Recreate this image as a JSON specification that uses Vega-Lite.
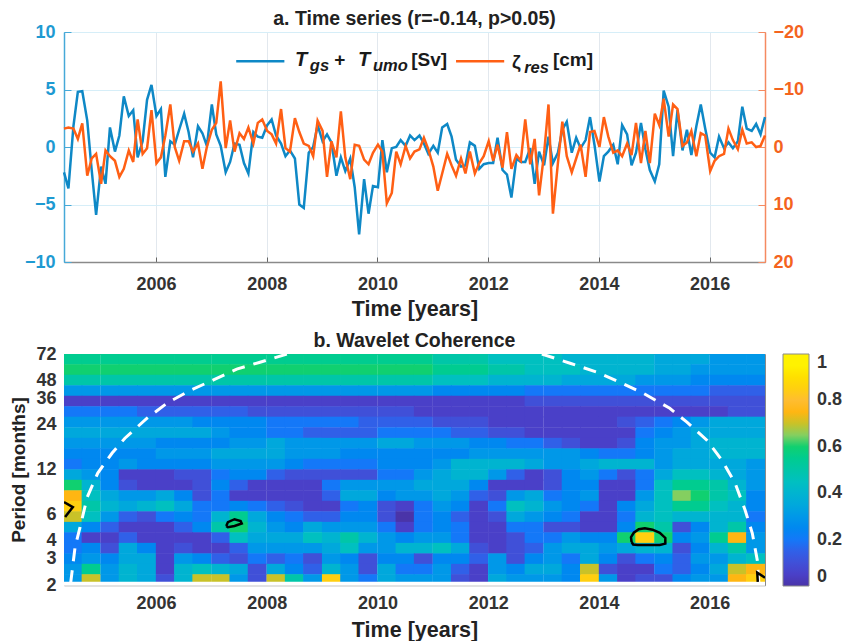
{"$schema":"https://vega.github.io/schema/vega-lite/v6.json","padding":{"left":9,"top":8,"right":0,"bottom":0},"bounds":"flush","spacing":92,"config":{"font":"Liberation Sans","view":{"stroke":"#8a8a8a"}},"datasets":{"series":[
{"t":2004.34,"T":-2.2,"z":-3.2},{"t":2004.42,"T":-3.6,"z":-3.4},{"t":2004.51,"T":1.8,"z":-3.2},{"t":2004.59,"T":4.8,"z":-1.4},{"t":2004.67,"T":4.85,"z":-4.1},{"t":2004.76,"T":2.3,"z":5},{"t":2004.84,"T":-2,"z":2},{"t":2004.92,"T":-5.9,"z":1.2},
{"t":2005.01,"T":-1.7,"z":6.4},{"t":2005.09,"T":-3.2,"z":0.6},{"t":2005.17,"T":1.7,"z":1.6},{"t":2005.26,"T":-0.4,"z":2.4},{"t":2005.34,"T":1,"z":5.2},{"t":2005.42,"T":4.4,"z":3.8},{"t":2005.51,"T":2.7,"z":0.6},{"t":2005.59,"T":3.2,"z":2.6},{"t":2005.67,"T":-0.9,"z":-4.8},{"t":2005.76,"T":0.5,"z":1.2},{"t":2005.84,"T":4.1,"z":0.2},{"t":2005.92,"T":5.4,"z":-6.4},
{"t":2006.01,"T":2.7,"z":2.8},{"t":2006.09,"T":3.3,"z":1.8},{"t":2006.17,"T":-2.6,"z":-2},{"t":2006.26,"T":0.5,"z":-7.4},{"t":2006.34,"T":0.2,"z":0},{"t":2006.42,"T":1.5,"z":2.4},{"t":2006.51,"T":2.9,"z":-1},{"t":2006.59,"T":1.3,"z":-1},{"t":2006.67,"T":-0.9,"z":0.8},{"t":2006.76,"T":1.8,"z":-0.6},{"t":2006.84,"T":1.2,"z":3.8},{"t":2006.92,"T":0.1,"z":0},
{"t":2007.01,"T":3.7,"z":-3},{"t":2007.09,"T":1.1,"z":-4.2},{"t":2007.17,"T":0.1,"z":-11.4},{"t":2007.26,"T":-2.2,"z":0.2},{"t":2007.34,"T":-1.3,"z":-4.6},{"t":2007.42,"T":0.3,"z":0.8},{"t":2007.51,"T":0.2,"z":-2.4},{"t":2007.59,"T":-1.4,"z":-1.4},{"t":2007.67,"T":-2.3,"z":-3.4},{"t":2007.76,"T":1.3,"z":-0.6},{"t":2007.84,"T":0.9,"z":-4.2},{"t":2007.92,"T":0.8,"z":-4.8},
{"t":2008.01,"T":1.9,"z":-2.8},{"t":2008.09,"T":2.4,"z":-2.2},{"t":2008.17,"T":1,"z":-0.6},{"t":2008.26,"T":0.3,"z":-6.6},{"t":2008.34,"T":-0.8,"z":0.2},{"t":2008.42,"T":-0.3,"z":0.8},{"t":2008.51,"T":-1,"z":-5},{"t":2008.59,"T":-5,"z":-2.6},{"t":2008.67,"T":-5.3,"z":-0.6},{"t":2008.76,"T":-0.5,"z":-0.2},{"t":2008.84,"T":0,"z":1.6},{"t":2008.92,"T":1.9,"z":-4.6},
{"t":2009.01,"T":0.5,"z":-2.8},{"t":2009.09,"T":1.1,"z":5.2},{"t":2009.17,"T":0.4,"z":-1},{"t":2009.26,"T":-2.5,"z":1.8},{"t":2009.34,"T":-0.9,"z":-6.2},{"t":2009.42,"T":-2.1,"z":1.8},{"t":2009.51,"T":-1,"z":5.6},{"t":2009.59,"T":-3.5,"z":-0.4},{"t":2009.67,"T":-7.6,"z":-0.2},{"t":2009.76,"T":-2.8,"z":2.2},{"t":2009.84,"T":-5.8,"z":3},{"t":2009.92,"T":-3.4,"z":1},
{"t":2010.01,"T":-3.5,"z":-0.4},{"t":2010.09,"T":0.6,"z":0.8},{"t":2010.17,"T":-2.2,"z":9.8},{"t":2010.26,"T":-0.1,"z":8},{"t":2010.34,"T":0,"z":0.8},{"t":2010.42,"T":0.6,"z":3},{"t":2010.51,"T":0.1,"z":-0.2},{"t":2010.59,"T":1,"z":2},{"t":2010.67,"T":0.6,"z":0.8},{"t":2010.76,"T":1,"z":0.4},{"t":2010.84,"T":0.3,"z":-1.6},{"t":2010.92,"T":-0.6,"z":0.4},
{"t":2011.01,"T":0.1,"z":3.4},{"t":2011.09,"T":-0.5,"z":7.6},{"t":2011.17,"T":1.7,"z":4.6},{"t":2011.26,"T":2,"z":1.2},{"t":2011.34,"T":0.9,"z":3.2},{"t":2011.42,"T":-1.1,"z":5},{"t":2011.51,"T":-1.7,"z":2},{"t":2011.59,"T":-1.6,"z":4.6},{"t":2011.67,"T":0.4,"z":0.8},{"t":2011.76,"T":0.1,"z":4.6},{"t":2011.84,"T":-1.9,"z":2.8},{"t":2011.92,"T":-1.5,"z":1.6},
{"t":2012.01,"T":-1.4,"z":-1},{"t":2012.09,"T":-1.4,"z":2.4},{"t":2012.17,"T":0.8,"z":-0.4},{"t":2012.26,"T":-2,"z":3.6},{"t":2012.34,"T":-2.4,"z":-2.6},{"t":2012.42,"T":-4.4,"z":3.8},{"t":2012.51,"T":-1,"z":1.4},{"t":2012.59,"T":-1.3,"z":2.4},{"t":2012.67,"T":-1.3,"z":-4.8},{"t":2012.76,"T":-0.1,"z":3},{"t":2012.84,"T":-3.2,"z":-1.4},{"t":2012.92,"T":-0.4,"z":8.4},
{"t":2013.01,"T":-1.6,"z":1.2},{"t":2013.09,"T":0.9,"z":-7.4},{"t":2013.17,"T":-1.4,"z":11.6},{"t":2013.26,"T":-0.5,"z":2.8},{"t":2013.34,"T":1.5,"z":-4.4},{"t":2013.42,"T":2.2,"z":1.6},{"t":2013.51,"T":-0.5,"z":4.4},{"t":2013.59,"T":0.8,"z":2},{"t":2013.67,"T":-0.1,"z":-0.4},{"t":2013.76,"T":0.6,"z":5.2},{"t":2013.84,"T":2.6,"z":-2.6},{"t":2013.92,"T":0.2,"z":-2.8},
{"t":2014.01,"T":-3,"z":0},{"t":2014.09,"T":-0.8,"z":-5.2},{"t":2014.17,"T":-0.4,"z":-1.8},{"t":2014.26,"T":0.2,"z":1},{"t":2014.34,"T":-1.5,"z":0.6},{"t":2014.42,"T":1.9,"z":1.6},{"t":2014.51,"T":1.1,"z":-0.6},{"t":2014.59,"T":-1.6,"z":1.4},{"t":2014.67,"T":-0.5,"z":-4.2},{"t":2014.76,"T":2.1,"z":2.8},{"t":2014.84,"T":-0.2,"z":-2.8},{"t":2014.92,"T":-2,"z":2.8},
{"t":2015.01,"T":-3,"z":-5.8},{"t":2015.09,"T":-1.5,"z":-3.8},{"t":2015.17,"T":4.9,"z":-8.4},{"t":2015.26,"T":3.5,"z":-1.8},{"t":2015.34,"T":-0.8,"z":-7.4},{"t":2015.42,"T":3.2,"z":-6.6},{"t":2015.51,"T":-0.3,"z":-0.2},{"t":2015.59,"T":1.5,"z":-0.8},{"t":2015.67,"T":-0.7,"z":-2.8},{"t":2015.76,"T":1.8,"z":1.6},{"t":2015.84,"T":3.7,"z":-2.4},{"t":2015.92,"T":1.6,"z":-2},
{"t":2016.01,"T":-0.5,"z":4.2},{"t":2016.09,"T":-0.9,"z":2.4},{"t":2016.17,"T":0.9,"z":1.6},{"t":2016.26,"T":-0.1,"z":1.2},{"t":2016.34,"T":0.4,"z":-3.2},{"t":2016.42,"T":-0.1,"z":-1.2},{"t":2016.51,"T":0.5,"z":0.4},{"t":2016.59,"T":3.5,"z":-3},{"t":2016.67,"T":1.6,"z":-0.6},{"t":2016.76,"T":1.4,"z":-0.8},{"t":2016.84,"T":2,"z":0},{"t":2016.92,"T":1.1,"z":-0.2},{"t":2017,"T":2.6,"z":-2}
],
"cells":[
{"t":2004.5,"p":66.4,"c":0.55},{"t":2004.83,"p":66.4,"c":0.55},{"t":2005.17,"p":66.4,"c":0.55},{"t":2005.5,"p":66.4,"c":0.55},{"t":2005.83,"p":66.4,"c":0.55},{"t":2006.17,"p":66.4,"c":0.55},{"t":2006.5,"p":66.4,"c":0.58},{"t":2006.83,"p":66.4,"c":0.58},{"t":2007.17,"p":66.4,"c":0.58},{"t":2007.5,"p":66.4,"c":0.58},{"t":2007.83,"p":66.4,"c":0.58},{"t":2008.17,"p":66.4,"c":0.58},{"t":2008.5,"p":66.4,"c":0.58},{"t":2008.83,"p":66.4,"c":0.58},{"t":2009.17,"p":66.4,"c":0.55},{"t":2009.5,"p":66.4,"c":0.55},{"t":2009.83,"p":66.4,"c":0.55},{"t":2010.17,"p":66.4,"c":0.55},{"t":2010.5,"p":66.4,"c":0.55},{"t":2010.83,"p":66.4,"c":0.55},{"t":2011.17,"p":66.4,"c":0.5},{"t":2011.5,"p":66.4,"c":0.5},{"t":2011.83,"p":66.4,"c":0.5},{"t":2012.17,"p":66.4,"c":0.48},{"t":2012.5,"p":66.4,"c":0.48},{"t":2012.83,"p":66.4,"c":0.45},{"t":2013.17,"p":66.4,"c":0.45},{"t":2013.5,"p":66.4,"c":0.43},{"t":2013.83,"p":66.4,"c":0.43},{"t":2014.17,"p":66.4,"c":0.43},{"t":2014.5,"p":66.4,"c":0.4},{"t":2014.83,"p":66.4,"c":0.4},{"t":2015.17,"p":66.4,"c":0.38},{"t":2015.5,"p":66.4,"c":0.38},{"t":2015.83,"p":66.4,"c":0.35},{"t":2016.17,"p":66.4,"c":0.33},{"t":2016.5,"p":66.4,"c":0.33},{"t":2016.83,"p":66.4,"c":0.33},
{"t":2004.5,"p":56.4,"c":0.62},{"t":2004.83,"p":56.4,"c":0.62},{"t":2005.17,"p":56.4,"c":0.62},{"t":2005.5,"p":56.4,"c":0.62},{"t":2005.83,"p":56.4,"c":0.62},{"t":2006.17,"p":56.4,"c":0.62},{"t":2006.5,"p":56.4,"c":0.62},{"t":2006.83,"p":56.4,"c":0.62},{"t":2007.17,"p":56.4,"c":0.62},{"t":2007.5,"p":56.4,"c":0.62},{"t":2007.83,"p":56.4,"c":0.62},{"t":2008.17,"p":56.4,"c":0.62},{"t":2008.5,"p":56.4,"c":0.62},{"t":2008.83,"p":56.4,"c":0.62},{"t":2009.17,"p":56.4,"c":0.62},{"t":2009.5,"p":56.4,"c":0.62},{"t":2009.83,"p":56.4,"c":0.62},{"t":2010.17,"p":56.4,"c":0.62},{"t":2010.5,"p":56.4,"c":0.62},{"t":2010.83,"p":56.4,"c":0.6},{"t":2011.17,"p":56.4,"c":0.58},{"t":2011.5,"p":56.4,"c":0.55},{"t":2011.83,"p":56.4,"c":0.55},{"t":2012.17,"p":56.4,"c":0.52},{"t":2012.5,"p":56.4,"c":0.5},{"t":2012.83,"p":56.4,"c":0.48},{"t":2013.17,"p":56.4,"c":0.45},{"t":2013.5,"p":56.4,"c":0.45},{"t":2013.83,"p":56.4,"c":0.43},{"t":2014.17,"p":56.4,"c":0.43},{"t":2014.5,"p":56.4,"c":0.4},{"t":2014.83,"p":56.4,"c":0.4},{"t":2015.17,"p":56.4,"c":0.38},{"t":2015.5,"p":56.4,"c":0.35},{"t":2015.83,"p":56.4,"c":0.33},{"t":2016.17,"p":56.4,"c":0.33},{"t":2016.5,"p":56.4,"c":0.33},{"t":2016.83,"p":56.4,"c":0.33},
{"t":2004.5,"p":47.9,"c":0.52},{"t":2004.83,"p":47.9,"c":0.52},{"t":2005.17,"p":47.9,"c":0.52},{"t":2005.5,"p":47.9,"c":0.52},{"t":2005.83,"p":47.9,"c":0.52},{"t":2006.17,"p":47.9,"c":0.52},{"t":2006.5,"p":47.9,"c":0.52},{"t":2006.83,"p":47.9,"c":0.52},{"t":2007.17,"p":47.9,"c":0.52},{"t":2007.5,"p":47.9,"c":0.52},{"t":2007.83,"p":47.9,"c":0.52},{"t":2008.17,"p":47.9,"c":0.52},{"t":2008.5,"p":47.9,"c":0.52},{"t":2008.83,"p":47.9,"c":0.52},{"t":2009.17,"p":47.9,"c":0.5},{"t":2009.5,"p":47.9,"c":0.5},{"t":2009.83,"p":47.9,"c":0.5},{"t":2010.17,"p":47.9,"c":0.5},{"t":2010.5,"p":47.9,"c":0.5},{"t":2010.83,"p":47.9,"c":0.5},{"t":2011.17,"p":47.9,"c":0.47},{"t":2011.5,"p":47.9,"c":0.45},{"t":2011.83,"p":47.9,"c":0.45},{"t":2012.17,"p":47.9,"c":0.43},{"t":2012.5,"p":47.9,"c":0.43},{"t":2012.83,"p":47.9,"c":0.4},{"t":2013.17,"p":47.9,"c":0.4},{"t":2013.5,"p":47.9,"c":0.38},{"t":2013.83,"p":47.9,"c":0.38},{"t":2014.17,"p":47.9,"c":0.35},{"t":2014.5,"p":47.9,"c":0.35},{"t":2014.83,"p":47.9,"c":0.33},{"t":2015.17,"p":47.9,"c":0.3},{"t":2015.5,"p":47.9,"c":0.3},{"t":2015.83,"p":47.9,"c":0.28},{"t":2016.17,"p":47.9,"c":0.28},{"t":2016.5,"p":47.9,"c":0.28},{"t":2016.83,"p":47.9,"c":0.28},
{"t":2004.5,"p":40.7,"c":0.33},{"t":2004.83,"p":40.7,"c":0.33},{"t":2005.17,"p":40.7,"c":0.33},{"t":2005.5,"p":40.7,"c":0.33},{"t":2005.83,"p":40.7,"c":0.33},{"t":2006.17,"p":40.7,"c":0.33},{"t":2006.5,"p":40.7,"c":0.33},{"t":2006.83,"p":40.7,"c":0.33},{"t":2007.17,"p":40.7,"c":0.33},{"t":2007.5,"p":40.7,"c":0.33},{"t":2007.83,"p":40.7,"c":0.33},{"t":2008.17,"p":40.7,"c":0.33},{"t":2008.5,"p":40.7,"c":0.33},{"t":2008.83,"p":40.7,"c":0.33},{"t":2009.17,"p":40.7,"c":0.3},{"t":2009.5,"p":40.7,"c":0.3},{"t":2009.83,"p":40.7,"c":0.3},{"t":2010.17,"p":40.7,"c":0.3},{"t":2010.5,"p":40.7,"c":0.3},{"t":2010.83,"p":40.7,"c":0.3},{"t":2011.17,"p":40.7,"c":0.28},{"t":2011.5,"p":40.7,"c":0.28},{"t":2011.83,"p":40.7,"c":0.25},{"t":2012.17,"p":40.7,"c":0.25},{"t":2012.5,"p":40.7,"c":0.25},{"t":2012.83,"p":40.7,"c":0.23},{"t":2013.17,"p":40.7,"c":0.23},{"t":2013.5,"p":40.7,"c":0.23},{"t":2013.83,"p":40.7,"c":0.23},{"t":2014.17,"p":40.7,"c":0.2},{"t":2014.5,"p":40.7,"c":0.2},{"t":2014.83,"p":40.7,"c":0.2},{"t":2015.17,"p":40.7,"c":0.2},{"t":2015.5,"p":40.7,"c":0.2},{"t":2015.83,"p":40.7,"c":0.2},{"t":2016.17,"p":40.7,"c":0.18},{"t":2016.5,"p":40.7,"c":0.18},{"t":2016.83,"p":40.7,"c":0.18},
{"t":2004.5,"p":34.6,"c":0.05},{"t":2004.83,"p":34.6,"c":0.05},{"t":2005.17,"p":34.6,"c":0.05},{"t":2005.5,"p":34.6,"c":0.05},{"t":2005.83,"p":34.6,"c":0.05},{"t":2006.17,"p":34.6,"c":0.05},{"t":2006.5,"p":34.6,"c":0.05},{"t":2006.83,"p":34.6,"c":0.05},{"t":2007.17,"p":34.6,"c":0.05},{"t":2007.5,"p":34.6,"c":0.05},{"t":2007.83,"p":34.6,"c":0.05},{"t":2008.17,"p":34.6,"c":0.05},{"t":2008.5,"p":34.6,"c":0.05},{"t":2008.83,"p":34.6,"c":0.05},{"t":2009.17,"p":34.6,"c":0.05},{"t":2009.5,"p":34.6,"c":0.05},{"t":2009.83,"p":34.6,"c":0.05},{"t":2010.17,"p":34.6,"c":0.05},{"t":2010.5,"p":34.6,"c":0.05},{"t":2010.83,"p":34.6,"c":0.05},{"t":2011.17,"p":34.6,"c":0.05},{"t":2011.5,"p":34.6,"c":0.05},{"t":2011.83,"p":34.6,"c":0.05},{"t":2012.17,"p":34.6,"c":0.05},{"t":2012.5,"p":34.6,"c":0.07},{"t":2012.83,"p":34.6,"c":0.1},{"t":2013.17,"p":34.6,"c":0.1},{"t":2013.5,"p":34.6,"c":0.1},{"t":2013.83,"p":34.6,"c":0.12},{"t":2014.17,"p":34.6,"c":0.12},{"t":2014.5,"p":34.6,"c":0.12},{"t":2014.83,"p":34.6,"c":0.12},{"t":2015.17,"p":34.6,"c":0.12},{"t":2015.5,"p":34.6,"c":0.12},{"t":2015.83,"p":34.6,"c":0.12},{"t":2016.17,"p":34.6,"c":0.13},{"t":2016.5,"p":34.6,"c":0.13},{"t":2016.83,"p":34.6,"c":0.13},
{"t":2004.5,"p":29.4,"c":0.2},{"t":2004.83,"p":29.4,"c":0.2},{"t":2005.17,"p":29.4,"c":0.2},{"t":2005.5,"p":29.4,"c":0.2},{"t":2005.83,"p":29.4,"c":0.18},{"t":2006.17,"p":29.4,"c":0.18},{"t":2006.5,"p":29.4,"c":0.18},{"t":2006.83,"p":29.4,"c":0.15},{"t":2007.17,"p":29.4,"c":0.15},{"t":2007.5,"p":29.4,"c":0.15},{"t":2007.83,"p":29.4,"c":0.13},{"t":2008.17,"p":29.4,"c":0.13},{"t":2008.5,"p":29.4,"c":0.1},{"t":2008.83,"p":29.4,"c":0.1},{"t":2009.17,"p":29.4,"c":0.1},{"t":2009.5,"p":29.4,"c":0.1},{"t":2009.83,"p":29.4,"c":0.1},{"t":2010.17,"p":29.4,"c":0.1},{"t":2010.5,"p":29.4,"c":0.1},{"t":2010.83,"p":29.4,"c":0.08},{"t":2011.17,"p":29.4,"c":0.08},{"t":2011.5,"p":29.4,"c":0.07},{"t":2011.83,"p":29.4,"c":0.05},{"t":2012.17,"p":29.4,"c":0.05},{"t":2012.5,"p":29.4,"c":0.05},{"t":2012.83,"p":29.4,"c":0.05},{"t":2013.17,"p":29.4,"c":0.05},{"t":2013.5,"p":29.4,"c":0.05},{"t":2013.83,"p":29.4,"c":0.05},{"t":2014.17,"p":29.4,"c":0.05},{"t":2014.5,"p":29.4,"c":0.05},{"t":2014.83,"p":29.4,"c":0.05},{"t":2015.17,"p":29.4,"c":0.05},{"t":2015.5,"p":29.4,"c":0.05},{"t":2015.83,"p":29.4,"c":0.05},{"t":2016.17,"p":29.4,"c":0.08},{"t":2016.5,"p":29.4,"c":0.1},{"t":2016.83,"p":29.4,"c":0.1},
{"t":2004.5,"p":25,"c":0.33},{"t":2004.83,"p":25,"c":0.33},{"t":2005.17,"p":25,"c":0.33},{"t":2005.5,"p":25,"c":0.33},{"t":2005.83,"p":25,"c":0.33},{"t":2006.17,"p":25,"c":0.3},{"t":2006.5,"p":25,"c":0.3},{"t":2006.83,"p":25,"c":0.28},{"t":2007.17,"p":25,"c":0.28},{"t":2007.5,"p":25,"c":0.25},{"t":2007.83,"p":25,"c":0.25},{"t":2008.17,"p":25,"c":0.23},{"t":2008.5,"p":25,"c":0.2},{"t":2008.83,"p":25,"c":0.2},{"t":2009.17,"p":25,"c":0.2},{"t":2009.5,"p":25,"c":0.2},{"t":2009.83,"p":25,"c":0.18},{"t":2010.17,"p":25,"c":0.18},{"t":2010.5,"p":25,"c":0.18},{"t":2010.83,"p":25,"c":0.15},{"t":2011.17,"p":25,"c":0.13},{"t":2011.5,"p":25,"c":0.1},{"t":2011.83,"p":25,"c":0.1},{"t":2012.17,"p":25,"c":0.08},{"t":2012.5,"p":25,"c":0.05},{"t":2012.83,"p":25,"c":0.05},{"t":2013.17,"p":25,"c":0.05},{"t":2013.5,"p":25,"c":0.05},{"t":2013.83,"p":25,"c":0.05},{"t":2014.17,"p":25,"c":0.05},{"t":2014.5,"p":25,"c":0.1},{"t":2014.83,"p":25,"c":0.18},{"t":2015.17,"p":25,"c":0.23},{"t":2015.5,"p":25,"c":0.25},{"t":2015.83,"p":25,"c":0.3},{"t":2016.17,"p":25,"c":0.35},{"t":2016.5,"p":25,"c":0.35},{"t":2016.83,"p":25,"c":0.35},
{"t":2004.5,"p":21.2,"c":0.38},{"t":2004.83,"p":21.2,"c":0.38},{"t":2005.17,"p":21.2,"c":0.38},{"t":2005.5,"p":21.2,"c":0.38},{"t":2005.83,"p":21.2,"c":0.38},{"t":2006.17,"p":21.2,"c":0.38},{"t":2006.5,"p":21.2,"c":0.35},{"t":2006.83,"p":21.2,"c":0.35},{"t":2007.17,"p":21.2,"c":0.33},{"t":2007.5,"p":21.2,"c":0.28},{"t":2007.83,"p":21.2,"c":0.25},{"t":2008.17,"p":21.2,"c":0.2},{"t":2008.5,"p":21.2,"c":0.2},{"t":2008.83,"p":21.2,"c":0.18},{"t":2009.17,"p":21.2,"c":0.18},{"t":2009.5,"p":21.2,"c":0.18},{"t":2009.83,"p":21.2,"c":0.18},{"t":2010.17,"p":21.2,"c":0.2},{"t":2010.5,"p":21.2,"c":0.2},{"t":2010.83,"p":21.2,"c":0.2},{"t":2011.17,"p":21.2,"c":0.2},{"t":2011.5,"p":21.2,"c":0.18},{"t":2011.83,"p":21.2,"c":0.15},{"t":2012.17,"p":21.2,"c":0.13},{"t":2012.5,"p":21.2,"c":0.1},{"t":2012.83,"p":21.2,"c":0.08},{"t":2013.17,"p":21.2,"c":0.05},{"t":2013.5,"p":21.2,"c":0.05},{"t":2013.83,"p":21.2,"c":0.05},{"t":2014.17,"p":21.2,"c":0.05},{"t":2014.5,"p":21.2,"c":0.08},{"t":2014.83,"p":21.2,"c":0.2},{"t":2015.17,"p":21.2,"c":0.28},{"t":2015.5,"p":21.2,"c":0.3},{"t":2015.83,"p":21.2,"c":0.35},{"t":2016.17,"p":21.2,"c":0.38},{"t":2016.5,"p":21.2,"c":0.38},{"t":2016.83,"p":21.2,"c":0.38},
{"t":2004.5,"p":18,"c":0.3},{"t":2004.83,"p":18,"c":0.3},{"t":2005.17,"p":18,"c":0.3},{"t":2005.5,"p":18,"c":0.3},{"t":2005.83,"p":18,"c":0.3},{"t":2006.17,"p":18,"c":0.28},{"t":2006.5,"p":18,"c":0.28},{"t":2006.83,"p":18,"c":0.28},{"t":2007.17,"p":18,"c":0.28},{"t":2007.5,"p":18,"c":0.3},{"t":2007.83,"p":18,"c":0.33},{"t":2008.17,"p":18,"c":0.35},{"t":2008.5,"p":18,"c":0.33},{"t":2008.83,"p":18,"c":0.33},{"t":2009.17,"p":18,"c":0.3},{"t":2009.5,"p":18,"c":0.3},{"t":2009.83,"p":18,"c":0.33},{"t":2010.17,"p":18,"c":0.35},{"t":2010.5,"p":18,"c":0.35},{"t":2010.83,"p":18,"c":0.33},{"t":2011.17,"p":18,"c":0.3},{"t":2011.5,"p":18,"c":0.3},{"t":2011.83,"p":18,"c":0.28},{"t":2012.17,"p":18,"c":0.25},{"t":2012.5,"p":18,"c":0.23},{"t":2012.83,"p":18,"c":0.2},{"t":2013.17,"p":18,"c":0.15},{"t":2013.5,"p":18,"c":0.1},{"t":2013.83,"p":18,"c":0.05},{"t":2014.17,"p":18,"c":0.05},{"t":2014.5,"p":18,"c":0.13},{"t":2014.83,"p":18,"c":0.25},{"t":2015.17,"p":18,"c":0.3},{"t":2015.5,"p":18,"c":0.33},{"t":2015.83,"p":18,"c":0.38},{"t":2016.17,"p":18,"c":0.4},{"t":2016.5,"p":18,"c":0.42},{"t":2016.83,"p":18,"c":0.42},
{"t":2004.5,"p":15.3,"c":0.25},{"t":2004.83,"p":15.3,"c":0.25},{"t":2005.17,"p":15.3,"c":0.25},{"t":2005.5,"p":15.3,"c":0.25},{"t":2005.83,"p":15.3,"c":0.28},{"t":2006.17,"p":15.3,"c":0.3},{"t":2006.5,"p":15.3,"c":0.3},{"t":2006.83,"p":15.3,"c":0.33},{"t":2007.17,"p":15.3,"c":0.35},{"t":2007.5,"p":15.3,"c":0.38},{"t":2007.83,"p":15.3,"c":0.38},{"t":2008.17,"p":15.3,"c":0.35},{"t":2008.5,"p":15.3,"c":0.33},{"t":2008.83,"p":15.3,"c":0.3},{"t":2009.17,"p":15.3,"c":0.3},{"t":2009.5,"p":15.3,"c":0.28},{"t":2009.83,"p":15.3,"c":0.28},{"t":2010.17,"p":15.3,"c":0.28},{"t":2010.5,"p":15.3,"c":0.27},{"t":2010.83,"p":15.3,"c":0.25},{"t":2011.17,"p":15.3,"c":0.25},{"t":2011.5,"p":15.3,"c":0.28},{"t":2011.83,"p":15.3,"c":0.3},{"t":2012.17,"p":15.3,"c":0.33},{"t":2012.5,"p":15.3,"c":0.33},{"t":2012.83,"p":15.3,"c":0.33},{"t":2013.17,"p":15.3,"c":0.33},{"t":2013.5,"p":15.3,"c":0.3},{"t":2013.83,"p":15.3,"c":0.27},{"t":2014.17,"p":15.3,"c":0.23},{"t":2014.5,"p":15.3,"c":0.23},{"t":2014.83,"p":15.3,"c":0.27},{"t":2015.17,"p":15.3,"c":0.3},{"t":2015.5,"p":15.3,"c":0.35},{"t":2015.83,"p":15.3,"c":0.38},{"t":2016.17,"p":15.3,"c":0.42},{"t":2016.5,"p":15.3,"c":0.42},{"t":2016.83,"p":15.3,"c":0.42},
{"t":2004.5,"p":13,"c":0.23},{"t":2004.83,"p":13,"c":0.25},{"t":2005.17,"p":13,"c":0.28},{"t":2005.5,"p":13,"c":0.3},{"t":2005.83,"p":13,"c":0.28},{"t":2006.17,"p":13,"c":0.28},{"t":2006.5,"p":13,"c":0.25},{"t":2006.83,"p":13,"c":0.27},{"t":2007.17,"p":13,"c":0.3},{"t":2007.5,"p":13,"c":0.33},{"t":2007.83,"p":13,"c":0.33},{"t":2008.17,"p":13,"c":0.3},{"t":2008.5,"p":13,"c":0.27},{"t":2008.83,"p":13,"c":0.22},{"t":2009.17,"p":13,"c":0.2},{"t":2009.5,"p":13,"c":0.2},{"t":2009.83,"p":13,"c":0.22},{"t":2010.17,"p":13,"c":0.25},{"t":2010.5,"p":13,"c":0.25},{"t":2010.83,"p":13,"c":0.27},{"t":2011.17,"p":13,"c":0.33},{"t":2011.5,"p":13,"c":0.4},{"t":2011.83,"p":13,"c":0.43},{"t":2012.17,"p":13,"c":0.43},{"t":2012.5,"p":13,"c":0.4},{"t":2012.83,"p":13,"c":0.38},{"t":2013.17,"p":13,"c":0.33},{"t":2013.5,"p":13,"c":0.33},{"t":2013.83,"p":13,"c":0.35},{"t":2014.17,"p":13,"c":0.42},{"t":2014.5,"p":13,"c":0.43},{"t":2014.83,"p":13,"c":0.4},{"t":2015.17,"p":13,"c":0.33},{"t":2015.5,"p":13,"c":0.35},{"t":2015.83,"p":13,"c":0.38},{"t":2016.17,"p":13,"c":0.38},{"t":2016.5,"p":13,"c":0.35},{"t":2016.83,"p":13,"c":0.3},
{"t":2004.5,"p":11.05,"c":0.38},{"t":2004.83,"p":11.05,"c":0.33},{"t":2005.17,"p":11.05,"c":0.28},{"t":2005.5,"p":11.05,"c":0.05},{"t":2005.83,"p":11.05,"c":0.05},{"t":2006.17,"p":11.05,"c":0.05},{"t":2006.5,"p":11.05,"c":0.1},{"t":2006.83,"p":11.05,"c":0.12},{"t":2007.17,"p":11.05,"c":0.2},{"t":2007.5,"p":11.05,"c":0.27},{"t":2007.83,"p":11.05,"c":0.25},{"t":2008.17,"p":11.05,"c":0.18},{"t":2008.5,"p":11.05,"c":0.1},{"t":2008.83,"p":11.05,"c":0.1},{"t":2009.17,"p":11.05,"c":0.1},{"t":2009.5,"p":11.05,"c":0.1},{"t":2009.83,"p":11.05,"c":0.13},{"t":2010.17,"p":11.05,"c":0.2},{"t":2010.5,"p":11.05,"c":0.22},{"t":2010.83,"p":11.05,"c":0.3},{"t":2011.17,"p":11.05,"c":0.38},{"t":2011.5,"p":11.05,"c":0.43},{"t":2011.83,"p":11.05,"c":0.4},{"t":2012.17,"p":11.05,"c":0.3},{"t":2012.5,"p":11.05,"c":0.15},{"t":2012.83,"p":11.05,"c":0.05},{"t":2013.17,"p":11.05,"c":0.1},{"t":2013.5,"p":11.05,"c":0.25},{"t":2013.83,"p":11.05,"c":0.33},{"t":2014.17,"p":11.05,"c":0.2},{"t":2014.5,"p":11.05,"c":0.1},{"t":2014.83,"p":11.05,"c":0.2},{"t":2015.17,"p":11.05,"c":0.38},{"t":2015.5,"p":11.05,"c":0.45},{"t":2015.83,"p":11.05,"c":0.45},{"t":2016.17,"p":11.05,"c":0.42},{"t":2016.5,"p":11.05,"c":0.35},{"t":2016.83,"p":11.05,"c":0.33},
{"t":2004.5,"p":9.39,"c":0.6},{"t":2004.83,"p":9.39,"c":0.4},{"t":2005.17,"p":9.39,"c":0.28},{"t":2005.5,"p":9.39,"c":0.13},{"t":2005.83,"p":9.39,"c":0.05},{"t":2006.17,"p":9.39,"c":0.05},{"t":2006.5,"p":9.39,"c":0.05},{"t":2006.83,"p":9.39,"c":0.1},{"t":2007.17,"p":9.39,"c":0.25},{"t":2007.5,"p":9.39,"c":0.15},{"t":2007.83,"p":9.39,"c":0.05},{"t":2008.17,"p":9.39,"c":0.05},{"t":2008.5,"p":9.39,"c":0.05},{"t":2008.83,"p":9.39,"c":0.08},{"t":2009.17,"p":9.39,"c":0.2},{"t":2009.5,"p":9.39,"c":0.3},{"t":2009.83,"p":9.39,"c":0.3},{"t":2010.17,"p":9.39,"c":0.3},{"t":2010.5,"p":9.39,"c":0.33},{"t":2010.83,"p":9.39,"c":0.35},{"t":2011.17,"p":9.39,"c":0.38},{"t":2011.5,"p":9.39,"c":0.38},{"t":2011.83,"p":9.39,"c":0.25},{"t":2012.17,"p":9.39,"c":0.07},{"t":2012.5,"p":9.39,"c":0.05},{"t":2012.83,"p":9.39,"c":0.05},{"t":2013.17,"p":9.39,"c":0.12},{"t":2013.5,"p":9.39,"c":0.28},{"t":2013.83,"p":9.39,"c":0.28},{"t":2014.17,"p":9.39,"c":0.05},{"t":2014.5,"p":9.39,"c":0.05},{"t":2014.83,"p":9.39,"c":0.2},{"t":2015.17,"p":9.39,"c":0.45},{"t":2015.5,"p":9.39,"c":0.55},{"t":2015.83,"p":9.39,"c":0.55},{"t":2016.17,"p":9.39,"c":0.5},{"t":2016.5,"p":9.39,"c":0.4},{"t":2016.83,"p":9.39,"c":0.3},
{"t":2004.5,"p":7.98,"c":0.75},{"t":2004.83,"p":7.98,"c":0.45},{"t":2005.17,"p":7.98,"c":0.35},{"t":2005.5,"p":7.98,"c":0.3},{"t":2005.83,"p":7.98,"c":0.33},{"t":2006.17,"p":7.98,"c":0.38},{"t":2006.5,"p":7.98,"c":0.25},{"t":2006.83,"p":7.98,"c":0.13},{"t":2007.17,"p":7.98,"c":0.2},{"t":2007.5,"p":7.98,"c":0.07},{"t":2007.83,"p":7.98,"c":0.05},{"t":2008.17,"p":7.98,"c":0.05},{"t":2008.5,"p":7.98,"c":0.05},{"t":2008.83,"p":7.98,"c":0.07},{"t":2009.17,"p":7.98,"c":0.15},{"t":2009.5,"p":7.98,"c":0.38},{"t":2009.83,"p":7.98,"c":0.38},{"t":2010.17,"p":7.98,"c":0.28},{"t":2010.5,"p":7.98,"c":0.3},{"t":2010.83,"p":7.98,"c":0.33},{"t":2011.17,"p":7.98,"c":0.35},{"t":2011.5,"p":7.98,"c":0.3},{"t":2011.83,"p":7.98,"c":0.15},{"t":2012.17,"p":7.98,"c":0.12},{"t":2012.5,"p":7.98,"c":0.3},{"t":2012.83,"p":7.98,"c":0.35},{"t":2013.17,"p":7.98,"c":0.2},{"t":2013.5,"p":7.98,"c":0.25},{"t":2013.83,"p":7.98,"c":0.3},{"t":2014.17,"p":7.98,"c":0.07},{"t":2014.5,"p":7.98,"c":0.07},{"t":2014.83,"p":7.98,"c":0.3},{"t":2015.17,"p":7.98,"c":0.48},{"t":2015.5,"p":7.98,"c":0.68},{"t":2015.83,"p":7.98,"c":0.6},{"t":2016.17,"p":7.98,"c":0.5},{"t":2016.5,"p":7.98,"c":0.45},{"t":2016.83,"p":7.98,"c":0.25},
{"t":2004.5,"p":6.78,"c":0.85},{"t":2004.83,"p":6.78,"c":0.5},{"t":2005.17,"p":6.78,"c":0.4},{"t":2005.5,"p":6.78,"c":0.35},{"t":2005.83,"p":6.78,"c":0.4},{"t":2006.17,"p":6.78,"c":0.45},{"t":2006.5,"p":6.78,"c":0.35},{"t":2006.83,"p":6.78,"c":0.2},{"t":2007.17,"p":6.78,"c":0.2},{"t":2007.5,"p":6.78,"c":0.28},{"t":2007.83,"p":6.78,"c":0.2},{"t":2008.17,"p":6.78,"c":0.15},{"t":2008.5,"p":6.78,"c":0.12},{"t":2008.83,"p":6.78,"c":0.05},{"t":2009.17,"p":6.78,"c":0.07},{"t":2009.5,"p":6.78,"c":0.2},{"t":2009.83,"p":6.78,"c":0.25},{"t":2010.17,"p":6.78,"c":0.1},{"t":2010.5,"p":6.78,"c":0.05},{"t":2010.83,"p":6.78,"c":0.2},{"t":2011.17,"p":6.78,"c":0.3},{"t":2011.5,"p":6.78,"c":0.25},{"t":2011.83,"p":6.78,"c":0.08},{"t":2012.17,"p":6.78,"c":0.2},{"t":2012.5,"p":6.78,"c":0.45},{"t":2012.83,"p":6.78,"c":0.4},{"t":2013.17,"p":6.78,"c":0.3},{"t":2013.5,"p":6.78,"c":0.25},{"t":2013.83,"p":6.78,"c":0.2},{"t":2014.17,"p":6.78,"c":0.08},{"t":2014.5,"p":6.78,"c":0.25},{"t":2014.83,"p":6.78,"c":0.35},{"t":2015.17,"p":6.78,"c":0.45},{"t":2015.5,"p":6.78,"c":0.55},{"t":2015.83,"p":6.78,"c":0.55},{"t":2016.17,"p":6.78,"c":0.45},{"t":2016.5,"p":6.78,"c":0.42},{"t":2016.83,"p":6.78,"c":0.25},
{"t":2004.5,"p":5.76,"c":0.7},{"t":2004.83,"p":5.76,"c":0.45},{"t":2005.17,"p":5.76,"c":0.3},{"t":2005.5,"p":5.76,"c":0.15},{"t":2005.83,"p":5.76,"c":0.1},{"t":2006.17,"p":5.76,"c":0.2},{"t":2006.5,"p":5.76,"c":0.28},{"t":2006.83,"p":5.76,"c":0.22},{"t":2007.17,"p":5.76,"c":0.4},{"t":2007.5,"p":5.76,"c":0.55},{"t":2007.83,"p":5.76,"c":0.35},{"t":2008.17,"p":5.76,"c":0.25},{"t":2008.5,"p":5.76,"c":0.22},{"t":2008.83,"p":5.76,"c":0.18},{"t":2009.17,"p":5.76,"c":0.15},{"t":2009.5,"p":5.76,"c":0.25},{"t":2009.83,"p":5.76,"c":0.25},{"t":2010.17,"p":5.76,"c":0.1},{"t":2010.5,"p":5.76,"c":0.03},{"t":2010.83,"p":5.76,"c":0.2},{"t":2011.17,"p":5.76,"c":0.28},{"t":2011.5,"p":5.76,"c":0.18},{"t":2011.83,"p":5.76,"c":0.05},{"t":2012.17,"p":5.76,"c":0.12},{"t":2012.5,"p":5.76,"c":0.35},{"t":2012.83,"p":5.76,"c":0.3},{"t":2013.17,"p":5.76,"c":0.25},{"t":2013.5,"p":5.76,"c":0.2},{"t":2013.83,"p":5.76,"c":0.05},{"t":2014.17,"p":5.76,"c":0.05},{"t":2014.5,"p":5.76,"c":0.2},{"t":2014.83,"p":5.76,"c":0.4},{"t":2015.17,"p":5.76,"c":0.45},{"t":2015.5,"p":5.76,"c":0.42},{"t":2015.83,"p":5.76,"c":0.42},{"t":2016.17,"p":5.76,"c":0.42},{"t":2016.5,"p":5.76,"c":0.4},{"t":2016.83,"p":5.76,"c":0.22},
{"t":2004.5,"p":4.89,"c":0.38},{"t":2004.83,"p":4.89,"c":0.25},{"t":2005.17,"p":4.89,"c":0.18},{"t":2005.5,"p":4.89,"c":0.05},{"t":2005.83,"p":4.89,"c":0.05},{"t":2006.17,"p":4.89,"c":0.05},{"t":2006.5,"p":4.89,"c":0.15},{"t":2006.83,"p":4.89,"c":0.25},{"t":2007.17,"p":4.89,"c":0.5},{"t":2007.5,"p":4.89,"c":0.62},{"t":2007.83,"p":4.89,"c":0.4},{"t":2008.17,"p":4.89,"c":0.3},{"t":2008.5,"p":4.89,"c":0.28},{"t":2008.83,"p":4.89,"c":0.35},{"t":2009.17,"p":4.89,"c":0.3},{"t":2009.5,"p":4.89,"c":0.3},{"t":2009.83,"p":4.89,"c":0.3},{"t":2010.17,"p":4.89,"c":0.2},{"t":2010.5,"p":4.89,"c":0.05},{"t":2010.83,"p":4.89,"c":0.2},{"t":2011.17,"p":4.89,"c":0.28},{"t":2011.5,"p":4.89,"c":0.2},{"t":2011.83,"p":4.89,"c":0.05},{"t":2012.17,"p":4.89,"c":0.08},{"t":2012.5,"p":4.89,"c":0.22},{"t":2012.83,"p":4.89,"c":0.2},{"t":2013.17,"p":4.89,"c":0.1},{"t":2013.5,"p":4.89,"c":0.12},{"t":2013.83,"p":4.89,"c":0.05},{"t":2014.17,"p":4.89,"c":0.08},{"t":2014.5,"p":4.89,"c":0.25},{"t":2014.83,"p":4.89,"c":0.6},{"t":2015.17,"p":4.89,"c":0.5},{"t":2015.5,"p":4.89,"c":0.1},{"t":2015.83,"p":4.89,"c":0.25},{"t":2016.17,"p":4.89,"c":0.4},{"t":2016.5,"p":4.89,"c":0.5},{"t":2016.83,"p":4.89,"c":0.25},
{"t":2004.5,"p":4.16,"c":0.2},{"t":2004.83,"p":4.16,"c":0.05},{"t":2005.17,"p":4.16,"c":0.08},{"t":2005.5,"p":4.16,"c":0.15},{"t":2005.83,"p":4.16,"c":0.08},{"t":2006.17,"p":4.16,"c":0.05},{"t":2006.5,"p":4.16,"c":0.05},{"t":2006.83,"p":4.16,"c":0.05},{"t":2007.17,"p":4.16,"c":0.18},{"t":2007.5,"p":4.16,"c":0.45},{"t":2007.83,"p":4.16,"c":0.38},{"t":2008.17,"p":4.16,"c":0.35},{"t":2008.5,"p":4.16,"c":0.35},{"t":2008.83,"p":4.16,"c":0.45},{"t":2009.17,"p":4.16,"c":0.42},{"t":2009.5,"p":4.16,"c":0.5},{"t":2009.83,"p":4.16,"c":0.42},{"t":2010.17,"p":4.16,"c":0.3},{"t":2010.5,"p":4.16,"c":0.28},{"t":2010.83,"p":4.16,"c":0.33},{"t":2011.17,"p":4.16,"c":0.3},{"t":2011.5,"p":4.16,"c":0.2},{"t":2011.83,"p":4.16,"c":0.05},{"t":2012.17,"p":4.16,"c":0.05},{"t":2012.5,"p":4.16,"c":0.12},{"t":2012.83,"p":4.16,"c":0.2},{"t":2013.17,"p":4.16,"c":0.2},{"t":2013.5,"p":4.16,"c":0.3},{"t":2013.83,"p":4.16,"c":0.25},{"t":2014.17,"p":4.16,"c":0.28},{"t":2014.5,"p":4.16,"c":0.6},{"t":2014.83,"p":4.16,"c":0.88},{"t":2015.17,"p":4.16,"c":0.6},{"t":2015.5,"p":4.16,"c":0.25},{"t":2015.83,"p":4.16,"c":0.3},{"t":2016.17,"p":4.16,"c":0.58},{"t":2016.5,"p":4.16,"c":0.78},{"t":2016.83,"p":4.16,"c":0.3},
{"t":2004.5,"p":3.53,"c":0.2},{"t":2004.83,"p":3.53,"c":0.25},{"t":2005.17,"p":3.53,"c":0.1},{"t":2005.5,"p":3.53,"c":0.35},{"t":2005.83,"p":3.53,"c":0.25},{"t":2006.17,"p":3.53,"c":0.05},{"t":2006.5,"p":3.53,"c":0.13},{"t":2006.83,"p":3.53,"c":0.08},{"t":2007.17,"p":3.53,"c":0.05},{"t":2007.5,"p":3.53,"c":0.15},{"t":2007.83,"p":3.53,"c":0.3},{"t":2008.17,"p":3.53,"c":0.33},{"t":2008.5,"p":3.53,"c":0.3},{"t":2008.83,"p":3.53,"c":0.3},{"t":2009.17,"p":3.53,"c":0.38},{"t":2009.5,"p":3.53,"c":0.45},{"t":2009.83,"p":3.53,"c":0.3},{"t":2010.17,"p":3.53,"c":0.3},{"t":2010.5,"p":3.53,"c":0.4},{"t":2010.83,"p":3.53,"c":0.42},{"t":2011.17,"p":3.53,"c":0.48},{"t":2011.5,"p":3.53,"c":0.35},{"t":2011.83,"p":3.53,"c":0.1},{"t":2012.17,"p":3.53,"c":0.05},{"t":2012.5,"p":3.53,"c":0.1},{"t":2012.83,"p":3.53,"c":0.18},{"t":2013.17,"p":3.53,"c":0.3},{"t":2013.5,"p":3.53,"c":0.38},{"t":2013.83,"p":3.53,"c":0.35},{"t":2014.17,"p":3.53,"c":0.3},{"t":2014.5,"p":3.53,"c":0.38},{"t":2014.83,"p":3.53,"c":0.4},{"t":2015.17,"p":3.53,"c":0.4},{"t":2015.5,"p":3.53,"c":0.12},{"t":2015.83,"p":3.53,"c":0.25},{"t":2016.17,"p":3.53,"c":0.42},{"t":2016.5,"p":3.53,"c":0.5},{"t":2016.83,"p":3.53,"c":0.3},
{"t":2004.5,"p":3,"c":0.28},{"t":2004.83,"p":3,"c":0.3},{"t":2005.17,"p":3,"c":0.25},{"t":2005.5,"p":3,"c":0.38},{"t":2005.83,"p":3,"c":0.35},{"t":2006.17,"p":3,"c":0.05},{"t":2006.5,"p":3,"c":0.3},{"t":2006.83,"p":3,"c":0.25},{"t":2007.17,"p":3,"c":0.15},{"t":2007.5,"p":3,"c":0.12},{"t":2007.83,"p":3,"c":0.2},{"t":2008.17,"p":3,"c":0.18},{"t":2008.5,"p":3,"c":0.2},{"t":2008.83,"p":3,"c":0.1},{"t":2009.17,"p":3,"c":0.33},{"t":2009.5,"p":3,"c":0.28},{"t":2009.83,"p":3,"c":0.1},{"t":2010.17,"p":3,"c":0.25},{"t":2010.5,"p":3,"c":0.25},{"t":2010.83,"p":3,"c":0.1},{"t":2011.17,"p":3,"c":0.28},{"t":2011.5,"p":3,"c":0.25},{"t":2011.83,"p":3,"c":0.18},{"t":2012.17,"p":3,"c":0.3},{"t":2012.5,"p":3,"c":0.1},{"t":2012.83,"p":3,"c":0.25},{"t":2013.17,"p":3,"c":0.33},{"t":2013.5,"p":3,"c":0.2},{"t":2013.83,"p":3,"c":0.35},{"t":2014.17,"p":3,"c":0.25},{"t":2014.5,"p":3,"c":0.13},{"t":2014.83,"p":3,"c":0.2},{"t":2015.17,"p":3,"c":0.25},{"t":2015.5,"p":3,"c":0.15},{"t":2015.83,"p":3,"c":0.3},{"t":2016.17,"p":3,"c":0.3},{"t":2016.5,"p":3,"c":0.4},{"t":2016.83,"p":3,"c":0.45},
{"t":2004.5,"p":2.55,"c":0.3},{"t":2004.83,"p":2.55,"c":0.55},{"t":2005.17,"p":2.55,"c":0.3},{"t":2005.5,"p":2.55,"c":0.4},{"t":2005.83,"p":2.55,"c":0.38},{"t":2006.17,"p":2.55,"c":0.05},{"t":2006.5,"p":2.55,"c":0.4},{"t":2006.83,"p":2.55,"c":0.45},{"t":2007.17,"p":2.55,"c":0.42},{"t":2007.5,"p":2.55,"c":0.38},{"t":2007.83,"p":2.55,"c":0.1},{"t":2008.17,"p":2.55,"c":0.38},{"t":2008.5,"p":2.55,"c":0.25},{"t":2008.83,"p":2.55,"c":0.15},{"t":2009.17,"p":2.55,"c":0.4},{"t":2009.5,"p":2.55,"c":0.3},{"t":2009.83,"p":2.55,"c":0.1},{"t":2010.17,"p":2.55,"c":0.35},{"t":2010.5,"p":2.55,"c":0.2},{"t":2010.83,"p":2.55,"c":0.2},{"t":2011.17,"p":2.55,"c":0.33},{"t":2011.5,"p":2.55,"c":0.18},{"t":2011.83,"p":2.55,"c":0.08},{"t":2012.17,"p":2.55,"c":0.3},{"t":2012.5,"p":2.55,"c":0.25},{"t":2012.83,"p":2.55,"c":0.38},{"t":2013.17,"p":2.55,"c":0.35},{"t":2013.5,"p":2.55,"c":0.25},{"t":2013.83,"p":2.55,"c":0.7},{"t":2014.17,"p":2.55,"c":0.12},{"t":2014.5,"p":2.55,"c":0.07},{"t":2014.83,"p":2.55,"c":0.07},{"t":2015.17,"p":2.55,"c":0.2},{"t":2015.5,"p":2.55,"c":0.15},{"t":2015.83,"p":2.55,"c":0.25},{"t":2016.17,"p":2.55,"c":0.35},{"t":2016.5,"p":2.55,"c":0.7},{"t":2016.83,"p":2.55,"c":0.75},
{"t":2004.5,"p":2.17,"c":0.3},{"t":2004.83,"p":2.17,"c":0.7},{"t":2005.17,"p":2.17,"c":0.33},{"t":2005.5,"p":2.17,"c":0.4},{"t":2005.83,"p":2.17,"c":0.35},{"t":2006.17,"p":2.17,"c":0.1},{"t":2006.5,"p":2.17,"c":0.4},{"t":2006.83,"p":2.17,"c":0.72},{"t":2007.17,"p":2.17,"c":0.7},{"t":2007.5,"p":2.17,"c":0.3},{"t":2007.83,"p":2.17,"c":0.1},{"t":2008.17,"p":2.17,"c":0.72},{"t":2008.5,"p":2.17,"c":0.5},{"t":2008.83,"p":2.17,"c":0.3},{"t":2009.17,"p":2.17,"c":0.85},{"t":2009.5,"p":2.17,"c":0.3},{"t":2009.83,"p":2.17,"c":0.2},{"t":2010.17,"p":2.17,"c":0.35},{"t":2010.5,"p":2.17,"c":0.3},{"t":2010.83,"p":2.17,"c":0.3},{"t":2011.17,"p":2.17,"c":0.3},{"t":2011.5,"p":2.17,"c":0.12},{"t":2011.83,"p":2.17,"c":0.05},{"t":2012.17,"p":2.17,"c":0.35},{"t":2012.5,"p":2.17,"c":0.3},{"t":2012.83,"p":2.17,"c":0.3},{"t":2013.17,"p":2.17,"c":0.3},{"t":2013.5,"p":2.17,"c":0.25},{"t":2013.83,"p":2.17,"c":0.85},{"t":2014.17,"p":2.17,"c":0.3},{"t":2014.5,"p":2.17,"c":0.08},{"t":2014.83,"p":2.17,"c":0.12},{"t":2015.17,"p":2.17,"c":0.1},{"t":2015.5,"p":2.17,"c":0.25},{"t":2015.83,"p":2.17,"c":0.3},{"t":2016.17,"p":2.17,"c":0.3},{"t":2016.5,"p":2.17,"c":0.78},{"t":2016.83,"p":2.17,"c":0.85}
]
},
"vconcat":[
{"width":701,"height":230,"title":{"text":"a. Time series (r=-0.14, p>0.05)","fontSize":19.5,"fontWeight":"bold","color":"#222222","offset":-6},
"resolve":{"scale":{"y":"independent"}},
"layer":[
{"data":{"name":"series"},"mark":{"type":"line","color":"#0E88C6","strokeWidth":2.5},"encoding":{
"x":{"field":"t","type":"quantitative","scale":{"domain":[2004.34,2017],"nice":false,"zero":false},"axis":{"values":[2006,2008,2010,2012,2014,2016],"format":"d","title":"Time [years]","grid":true,"gridColor":"#E2E8EE","domainColor":"#8a8a8a","domainWidth":1.5,"tickColor":"#666666","tickSize":-5,"labelFontSize":18,"labelFontWeight":"bold","labelColor":"#333333","labelPadding":18,"titleFontSize":21.5,"titleFontWeight":"bold","titleColor":"#222222","titlePadding":5}},
"y":{"field":"T","type":"quantitative","scale":{"domain":[-10,10],"nice":false},"axis":{"values":[-10,-5,0,5,10],"title":null,"orient":"left","grid":true,"gridColor":"#D6EEF8","domainColor":"#46A9D8","domainWidth":1.5,"tickColor":"#46A9D8","tickSize":-7,"labelFontSize":18,"labelFontWeight":"bold","labelColor":"#1E9AD2","labelPadding":16}}}},
{"data":{"name":"series"},"mark":{"type":"line","color":"#FF5F14","strokeWidth":2.5},"encoding":{
"x":{"field":"t","type":"quantitative"},
"y":{"field":"z","type":"quantitative","scale":{"domain":[20,-20],"nice":false},"axis":{"values":[-20,-10,0,10,20],"title":null,"orient":"right","grid":false,"domainColor":"#F58A60","domainWidth":1.5,"tickColor":"#F58A60","tickSize":-7,"labelFontSize":18,"labelFontWeight":"bold","labelColor":"#F4641E","labelPadding":15}}}},
{"data":{"values":[{"t":2007.45,"v":7.45},{"t":2008.32,"v":7.45}]},"mark":{"type":"line","color":"#0E88C6","strokeWidth":2.5},"encoding":{"x":{"field":"t","type":"quantitative"},"y":{"field":"v","type":"quantitative","scale":{"domain":[-10,10],"nice":false},"axis":null}}},
{"data":{"values":[{"t":2011.42,"v":7.45},{"t":2012.29,"v":7.45}]},"mark":{"type":"line","color":"#FF5F14","strokeWidth":2.5},"encoding":{"x":{"field":"t","type":"quantitative"},"y":{"field":"v","type":"quantitative","scale":{"domain":[-10,10],"nice":false},"axis":null}}},
{"data":{"values":[{"t":2008.51,"v":7.03,"s":"T"},{"t":2009.65,"v":7.03,"s":"T"}]},"mark":{"type":"text","align":"left","baseline":"alphabetic","fontWeight":"bold","fontStyle":"italic","fontSize":20,"color":"#1a1a1a"},"encoding":{"x":{"field":"t","type":"quantitative"},"y":{"field":"v","type":"quantitative","scale":{"domain":[-10,10],"nice":false},"axis":null},"text":{"field":"s"}}},
{"data":{"values":[{"t":2008.78,"v":6.6,"s":"gs"},{"t":2009.92,"v":6.6,"s":"umo"},{"t":2012.65,"v":6.4,"s":"res"}]},"mark":{"type":"text","align":"left","baseline":"alphabetic","fontWeight":"bold","fontStyle":"italic","fontSize":16.5,"color":"#1a1a1a"},"encoding":{"x":{"field":"t","type":"quantitative"},"y":{"field":"v","type":"quantitative","scale":{"domain":[-10,10],"nice":false},"axis":null},"text":{"field":"s"}}},
{"data":{"values":[{"t":2009.22,"v":7.03,"s":"+"},{"t":2010.61,"v":7.03,"s":"[Sv]"},{"t":2012.43,"v":6.85,"s":"ζ"},{"t":2013.17,"v":7.03,"s":"[cm]"}]},"mark":{"type":"text","align":"left","baseline":"alphabetic","fontWeight":"bold","fontSize":19,"color":"#1a1a1a"},"encoding":{"x":{"field":"t","type":"quantitative"},"y":{"field":"v","type":"quantitative","scale":{"domain":[-10,10],"nice":false},"axis":null},"text":{"field":"s"}}}
]},
{"width":701,"height":231,"title":{"text":"b. Wavelet Coherence","fontSize":19.5,"fontWeight":"bold","color":"#222222","offset":-6},
"layer":[
{"data":{"name":"cells"},"mark":{"type":"rect","width":19,"height":11,"clip":true},"encoding":{
"x":{"field":"t","type":"quantitative","scale":{"domain":[2004.34,2017],"nice":false,"zero":false},"axis":{"values":[2006,2008,2010,2012,2014,2016],"format":"d","title":"Time [years]","grid":false,"domainColor":"#8a8a8a","domainWidth":1.5,"tickColor":"#666666","tickSize":-5,"labelFontSize":18,"labelFontWeight":"bold","labelColor":"#333333","labelPadding":14,"titleFontSize":21.5,"titleFontWeight":"bold","titleColor":"#222222","titlePadding":7}},
"y":{"field":"p","type":"quantitative","scale":{"type":"log","domain":[2,72],"nice":false},"axis":{"values":[2,3,4,6,12,24,36,48,72],"format":"d","title":"Period [months]","grid":false,"domainColor":"#8a8a8a","tickSize":0,"labelFontSize":18,"labelFontWeight":"bold","labelColor":"#333333","labelPadding":8,"titleFontSize":19,"titleFontWeight":"bold","titleColor":"#222222","titlePadding":7}},
"color":{"field":"c","type":"quantitative","scale":{"type":"linear","clamp":true,"nice":false,"zero":false,"domain":[0,0.05,0.05,0.1,0.1,0.15,0.15,0.2,0.2,0.25,0.25,0.3,0.3,0.35,0.35,0.4,0.4,0.45,0.45,0.5,0.5,0.55,0.55,0.6,0.6,0.65,0.65,0.7,0.7,0.75,0.75,0.8,0.8,0.85,0.85,0.9,0.9,0.95,0.95,1],"range":["#4A34A8","#4A34A8","#4A40C8","#4A40C8","#4050D8","#4050D8","#3060E8","#3060E8","#1478F8","#1478F8","#0088F0","#0088F0","#0098E8","#0098E8","#00A8DC","#00A8DC","#00B4D0","#00B4D0","#00C0C0","#00C0C0","#00C6A8","#00C6A8","#00CC90","#00CC90","#10D070","#10D070","#84CF60","#84CF60","#C9C228","#C9C228","#FFB612","#FFB612","#FFBD30","#FFBD30","#FFCF10","#FFCF10","#FFDF00","#FFDF00","#FFF200","#FFF200"]},"legend":{"type":"gradient","orient":"none","legendX":719,"legendY":322,"gradientLength":232,"gradientThickness":26,"gradientStrokeColor":"#8a8a8a","gradientStrokeWidth":1,"title":null,"values":[0,0.2,0.4,0.6,0.8,1],"format":".1~f","labelFontSize":18,"labelFontWeight":"bold","labelColor":"#333333","labelOffset":8}}}},
{"data":{"values":[{"p":2.04}]},"mark":{"type":"rule","color":"#FFFFFF","strokeWidth":4},"encoding":{"y":{"field":"p","type":"quantitative"}}},
{"data":{"values":[{"i":1,"s":"L","t":2004.46,"p":2.06},{"i":2,"s":"L","t":2004.54,"p":3.6},{"i":3,"s":"L","t":2004.63,"p":4.91},{"i":4,"s":"L","t":2004.76,"p":7.82},{"i":5,"s":"L","t":2004.95,"p":11.35},{"i":6,"s":"L","t":2005.21,"p":15.5},{"i":7,"s":"L","t":2005.44,"p":19.5},{"i":8,"s":"L","t":2005.84,"p":26.6},{"i":9,"s":"L","t":2006.2,"p":33.6},{"i":10,"s":"L","t":2006.62,"p":41},{"i":11,"s":"L","t":2007.03,"p":48},{"i":12,"s":"L","t":2007.46,"p":57},{"i":13,"s":"L","t":2007.88,"p":63.4},{"i":14,"s":"L","t":2008.37,"p":72},
{"i":1,"s":"R","t":2012.97,"p":72},{"i":2,"s":"R","t":2013.48,"p":62.4},{"i":3,"s":"R","t":2013.97,"p":54.2},{"i":4,"s":"R","t":2014.38,"p":46.5},{"i":5,"s":"R","t":2014.8,"p":39.2},{"i":6,"s":"R","t":2015.28,"p":31},{"i":7,"s":"R","t":2015.59,"p":25},{"i":8,"s":"R","t":2015.95,"p":18.9},{"i":9,"s":"R","t":2016.22,"p":13.9},{"i":10,"s":"R","t":2016.46,"p":9.72},{"i":11,"s":"R","t":2016.64,"p":6.4},{"i":12,"s":"R","t":2016.77,"p":4.48},{"i":13,"s":"R","t":2016.86,"p":2.95},{"i":14,"s":"R","t":2016.89,"p":2.06}]},"mark":{"type":"line","color":"#FFFFFF","strokeWidth":3,"strokeDash":[13,9],"clip":true},"encoding":{"x":{"field":"t","type":"quantitative"},"y":{"field":"p","type":"quantitative"},"detail":{"field":"s"},"order":{"field":"i"}}},
{"data":{"values":[{"i":1,"s":"A","t":2004.34,"p":7.24},{"i":2,"s":"A","t":2004.5,"p":6.7},{"i":3,"s":"A","t":2004.36,"p":5.74},
{"i":1,"s":"B","t":2007.27,"p":5},{"i":2,"s":"B","t":2007.3,"p":5.3},{"i":3,"s":"B","t":2007.42,"p":5.55},{"i":4,"s":"B","t":2007.53,"p":5.4},{"i":5,"s":"B","t":2007.55,"p":5.2},{"i":6,"s":"B","t":2007.42,"p":5},{"i":7,"s":"B","t":2007.3,"p":4.9},{"i":8,"s":"B","t":2007.27,"p":5},
{"i":1,"s":"C","t":2014.59,"p":3.9},{"i":2,"s":"C","t":2014.58,"p":4.2},{"i":3,"s":"C","t":2014.63,"p":4.5},{"i":4,"s":"C","t":2014.72,"p":4.75},{"i":5,"s":"C","t":2014.83,"p":4.82},{"i":6,"s":"C","t":2014.97,"p":4.72},{"i":7,"s":"C","t":2015.1,"p":4.5},{"i":8,"s":"C","t":2015.2,"p":4.15},{"i":9,"s":"C","t":2015.2,"p":3.8},{"i":10,"s":"C","t":2015.1,"p":3.72},{"i":11,"s":"C","t":2014.7,"p":3.72},{"i":12,"s":"C","t":2014.62,"p":3.75},{"i":13,"s":"C","t":2014.59,"p":3.9},
{"i":1,"s":"D","t":2017,"p":2.24},{"i":2,"s":"D","t":2016.86,"p":2.42},{"i":3,"s":"D","t":2016.87,"p":2.1}]},"mark":{"type":"line","color":"#000000","strokeWidth":2.5,"clip":true},"encoding":{"x":{"field":"t","type":"quantitative"},"y":{"field":"p","type":"quantitative"},"detail":{"field":"s"},"order":{"field":"i"}}}
]}
]}
